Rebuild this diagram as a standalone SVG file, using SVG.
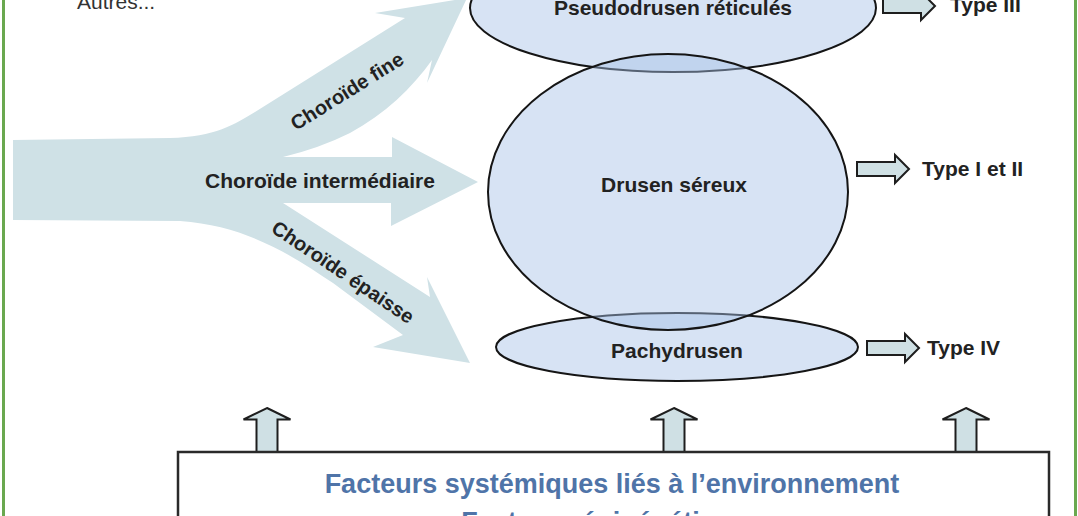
<svg xmlns="http://www.w3.org/2000/svg" xmlns:xlink="http://www.w3.org/1999/xlink" width="1078" height="516" viewBox="0 0 1078 516">
<style>
.t{font-family:"Liberation Sans",Arial,sans-serif;font-weight:bold;font-size:21px;fill:#222}
.r{font-family:"Liberation Sans",Arial,sans-serif;font-size:21px;fill:#333}
.b{font-family:"Liberation Sans",Arial,sans-serif;font-weight:bold;font-size:27px;fill:#4f74a8}
.blk{fill:#cfe0e4;stroke:#1e1e1e;stroke-width:2;stroke-linejoin:miter}
.ell{stroke:#151515;stroke-width:2}
.flow{fill:#cfe1e6}
</style>
<defs>
<path id="ra" d="M0,-7 L38,-7 L38,-14 L52,0 L38,14 L38,7 L0,7 Z"/>
<path id="ua" d="M0,0 L23.5,11.5 L10.5,11.5 L10.5,44 L-10.5,44 L-10.5,11.5 L-23.5,11.5 Z"/>
</defs>
<rect width="1078" height="516" fill="#fff"/>
<g id="border">
<line x1="3.5" y1="0" x2="3.5" y2="516" stroke="#6aa84f" stroke-width="3"/>
<line x1="1075.5" y1="0" x2="1075.5" y2="516" stroke="#6aa84f" stroke-width="3"/>
</g>
<g id="connectors">
<path class="flow" d="M13,140 L170,138 C215,137 235,124 255,112 L405,18 L375,13 L467,-2 L427,83 L432,60 C412,88 385,114 350,133 Q320,148 283,157 L392,157 L392,137 L478,182 L391,226 L391,203 L283,203 L430,297 L427,277 L470,363 L373,347 L403,335 L333,283 C295,258 250,226 180,221 L13,220 Z"/>
<text class="t" style="font-size:20px" text-anchor="middle" transform="translate(347,91) rotate(-32)" x="0" y="7">Choroïde fine</text>
<text class="t" x="205" y="188">Choroïde intermédiaire</text>
<text class="t" style="font-size:20px" text-anchor="middle" transform="translate(343,272) rotate(34)" x="0" y="7">Choroïde épaisse</text>
<use xlink:href="#ra" class="blk" x="883" y="6"/>
<use xlink:href="#ra" class="blk" x="857" y="169"/>
<use xlink:href="#ra" class="blk" x="867" y="348"/>
<use xlink:href="#ua" class="blk" x="267" y="408"/>
<use xlink:href="#ua" class="blk" x="674" y="408"/>
<use xlink:href="#ua" class="blk" x="966" y="408"/>
</g>
<g id="autres"><text class="r" x="77" y="9">Autres...</text></g>
<g id="pseudodrusen">
<ellipse class="ell" cx="673" cy="8" rx="203" ry="64" fill="#d7e3f4"/>
<text class="t" x="673" y="15" text-anchor="middle">Pseudodrusen réticulés</text>
</g>
<g id="pachydrusen">
<ellipse class="ell" cx="677" cy="347" rx="181" ry="34" fill="#d7e3f4"/>
<text class="t" x="677" y="358" text-anchor="middle">Pachydrusen</text>
</g>
<g id="drusen">
<ellipse class="ell" cx="668" cy="192" rx="180" ry="138" fill="#a6c1e7" fill-opacity="0.45"/>
<text class="t" x="674" y="192" text-anchor="middle">Drusen séreux</text>
</g>
<g id="type3"><text class="t" x="950" y="12">Type III</text></g>
<g id="type12"><text class="t" x="922" y="176">Type I et II</text></g>
<g id="type4"><text class="t" x="927" y="355">Type IV</text></g>
<g id="facteurs">
<rect x="178" y="452" width="871" height="100" fill="#fff" stroke="#2a2a2a" stroke-width="2.5"/>
<text class="b" x="612" y="493" text-anchor="middle">Facteurs systémiques liés à l’environnement</text>
<text class="b" x="612" y="531" text-anchor="middle">Facteurs épigénétiques</text>
</g>
</svg>
